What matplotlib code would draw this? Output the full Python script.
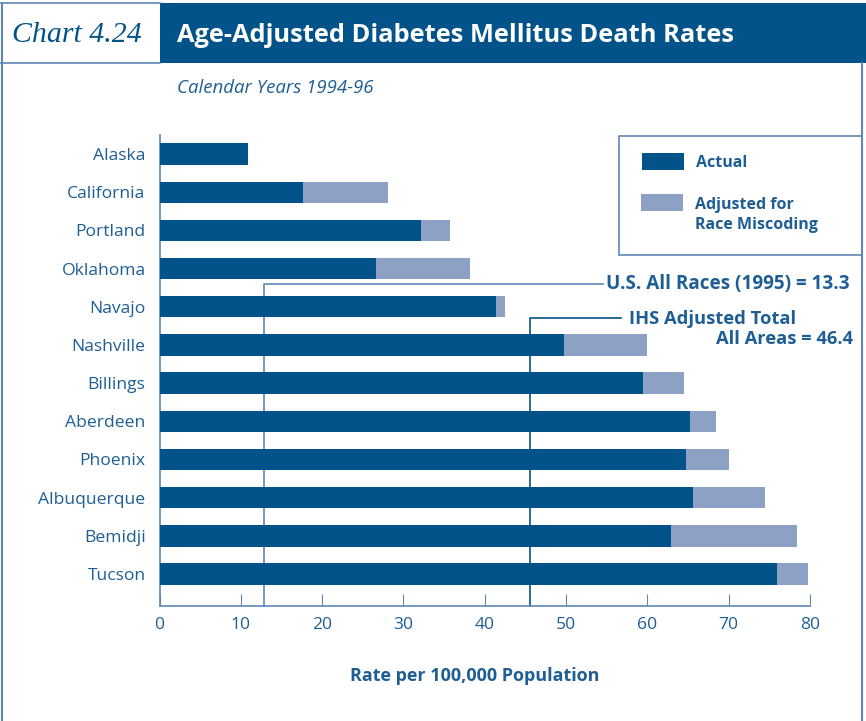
import numpy as np
import matplotlib
matplotlib.use("Agg")
import matplotlib.pyplot as plt
from matplotlib.patches import Rectangle
from matplotlib.lines import Line2D

# data
areas = ["Alaska", "California", "Portland", "Oklahoma", "Navajo", "Nashville",
         "Billings", "Aberdeen", "Phoenix", "Albuquerque", "Bemidji", "Tucson"]
actual = [10.9, 17.6, 32.2, 26.6, 41.4, 49.8, 59.5, 65.2, 64.8, 65.6, 62.9, 75.9]
adjusted = [10.9, 28.1, 35.7, 38.2, 42.5, 60.0, 64.5, 68.5, 70.0, 74.5, 78.4, 79.7]
us_rate = 12.8     # drawn position of U.S. All Races line
ihs_rate = 45.6    # drawn position of IHS total line
xticks = [0, 10, 20, 30, 40, 50, 60, 70, 80]

dark = "#02538A"
light = "#8CA1C3"
txt = "#1E5E94"
frame = "#5E88B3"

plt.rcParams['font.family'] = ['Open Sans', 'DejaVu Sans']

fig = plt.figure(figsize=(8.66, 7.21), dpi=100)
W, H = 866, 721

def px(x, y):
    return x / W, 1 - y / H

# header
fig.add_artist(Rectangle(px(160, 63), 706 / W, 60 / H, transform=fig.transFigure,
                         color=dark, lw=0))
fig.add_artist(Line2D([1 / W, 160 / W], [1 - 3 / H, 1 - 3 / H], transform=fig.transFigure,
                      color=frame, lw=1.2))
fig.add_artist(Line2D([1 / W, 160 / W], [1 - 63 / H, 1 - 63 / H], transform=fig.transFigure,
                      color=frame, lw=1.2))
fig.add_artist(Line2D([1.5 / W, 1.5 / W], [0, 1 - 3 / H], transform=fig.transFigure,
                      color=frame, lw=1.5))
fig.add_artist(Line2D([862 / W, 862 / W], [0, 1 - 63 / H], transform=fig.transFigure,
                      color=frame, lw=1.5))
fig.text(*px(77, 35), "Chart 4.24", family="Liberation Serif", style="italic",
         fontsize=21.5, color=dark, ha="center", va="center")
fig.text(*px(177, 35), "Age-Adjusted Diabetes Mellitus Death Rates", color="white",
         fontsize=18.3, fontweight="bold", ha="left", va="center")
fig.text(*px(177, 88), "Calendar Years 1994-96", color=txt, fontsize=13.4,
         style="italic", ha="left", va="center")

# axes
ax = fig.add_axes([159.5 / W, 1 - 605.7 / H, (810 - 159.5) / W, (605.7 - 135) / H])
y = np.arange(len(areas))
extra = [a - b for a, b in zip(adjusted, actual)]
ax.barh(y, actual, height=0.56, color=dark, zorder=3)
ax.barh(y, extra, left=actual, height=0.56, color=light, zorder=3)
ax.set_xlim(0, 80)
ax.set_ylim(11.83, -0.5)
ax.set_yticks(y)
ax.set_yticklabels(areas, color=txt, fontsize=12.6)
ax.tick_params(axis="y", length=0, pad=10)
ax.set_xticks(xticks)
ax.tick_params(axis="x", direction="in", length=9, color=frame, labelcolor=txt,
               labelsize=12.6, pad=8)
for s in ["top", "right"]:
    ax.spines[s].set_visible(False)
for s in ["left", "bottom"]:
    ax.spines[s].set_color(frame)
    ax.spines[s].set_linewidth(1.2)

# reference lines
ax.plot([us_rate, us_rate, 54.5], [11.83, 3.40, 3.40], color=frame, lw=1.2,
        zorder=1, clip_on=False)
ax.text(54.9, 3.40, "U.S. All Races (1995) = 13.3", color=txt, fontsize=13.6,
        fontweight="bold", ha="left", va="center", clip_on=False)
ax.plot([ihs_rate, ihs_rate, 56.8], [11.83, 4.29, 4.29], color=dark, lw=1.2,
        zorder=1, clip_on=False)
ax.text(57.8, 4.32, "IHS Adjusted Total", color=txt, fontsize=13.2,
        fontweight="bold", ha="left", va="center", clip_on=False)
ax.text(85.3, 4.84, "All Areas = 46.4", color=txt, fontsize=13.2,
        fontweight="bold", ha="right", va="center", clip_on=False)

fig.text(*px(475, 676), "Rate per 100,000 Population", color=txt, fontsize=13,
         fontweight="bold", ha="center", va="center")

# legend box
fig.add_artist(Rectangle(px(619, 255), (862 - 619) / W, (255 - 136) / H,
                         transform=fig.transFigure, fill=False, ec=frame, lw=1.2))
fig.add_artist(Rectangle(px(642, 170), 42 / W, 17 / H, transform=fig.transFigure,
                         color=dark, lw=0))
fig.add_artist(Rectangle(px(641, 211), 42 / W, 17 / H, transform=fig.transFigure,
                         color=light, lw=0))
fig.text(*px(696, 163), "Actual", color=txt, fontsize=11.5, fontweight="bold",
         ha="left", va="center")
fig.text(*px(695, 215), "Adjusted for\nRace Miscoding", color=txt, fontsize=11.5,
         fontweight="bold", ha="left", va="center", linespacing=1.35)

fig.savefig("out.png", dpi=100)
